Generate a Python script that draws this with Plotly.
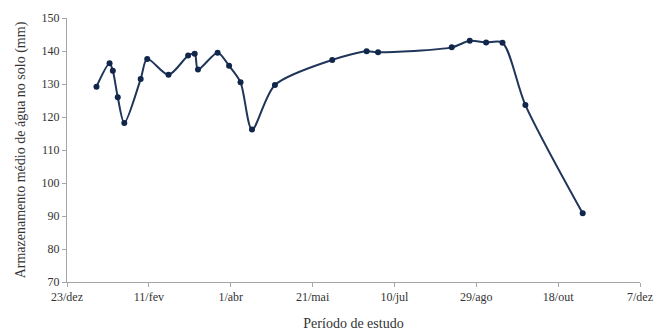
import plotly.graph_objects as go

dates = ["2008-01-10", "2008-01-18", "2008-01-20", "2008-01-23", "2008-01-27",
         "2008-02-06", "2008-02-10", "2008-02-23", "2008-03-06", "2008-03-10",
         "2008-03-12", "2008-03-24", "2008-03-31", "2008-04-07", "2008-04-14",
         "2008-04-28", "2008-06-02", "2008-06-23", "2008-06-30", "2008-08-14",
         "2008-08-25", "2008-09-04", "2008-09-14", "2008-09-28", "2008-11-02"]
values = [129.2, 136.3, 134.0, 126.0, 118.2,
          131.5, 137.6, 132.8, 138.6, 139.2,
          134.4, 139.5, 135.5, 130.5, 116.2,
          129.7, 137.3, 139.9, 139.6, 141.1,
          143.1, 142.6, 142.5, 123.6, 90.8]

tick_dates = ["2007-12-23", "2008-02-11", "2008-04-01", "2008-05-21",
              "2008-07-10", "2008-08-29", "2008-10-18", "2008-12-07"]
tick_labels = ["23/dez", "11/fev", "1/abr", "21/mai", "10/jul", "29/ago", "18/out", "7/dez"]
y_ticks = [70, 80, 90, 100, 110, 120, 130, 140, 150]

navy = "#1f3559"
serif = '"Liberation Serif", "Times New Roman", serif'
fig = go.Figure(go.Scatter(
    x=dates, y=values, mode="lines+markers",
    line=dict(color=navy, width=2, shape="spline", smoothing=0.8),
    marker=dict(color="#10264a", size=6),
))

fig.update_layout(
    width=654, height=334,
    margin=dict(l=67, r=14, t=18, b=52),
    paper_bgcolor="white", plot_bgcolor="white",
    showlegend=False,
    font=dict(family=serif, size=12, color="#333333"),
)
fig.update_xaxes(
    type="date", range=["2007-12-23", "2008-12-07"],
    tickvals=tick_dates, ticktext=tick_labels,
    showgrid=False, zeroline=False, automargin=False,
    showline=True, linecolor="#a6a6a6", linewidth=1,
    ticks="outside", ticklen=4, tickcolor="#a6a6a6",
    title=dict(text="Período de estudo", standoff=14, font=dict(family=serif, size=14, color="#333333")),
    tickfont=dict(family=serif, size=12, color="#333333"),
)
fig.update_yaxes(
    range=[70, 150], tickvals=y_ticks,
    showgrid=False, zeroline=False, automargin=False,
    showline=True, linecolor="#a6a6a6", linewidth=1,
    ticks="outside", ticklen=4, tickcolor="#a6a6a6",
    title=dict(text="Armazenamento médio de água no solo (mm)", standoff=12,
               font=dict(family=serif, size=14, color="#333333")),
    tickfont=dict(family=serif, size=12, color="#333333"),
)

fig.write_html("out.html")
